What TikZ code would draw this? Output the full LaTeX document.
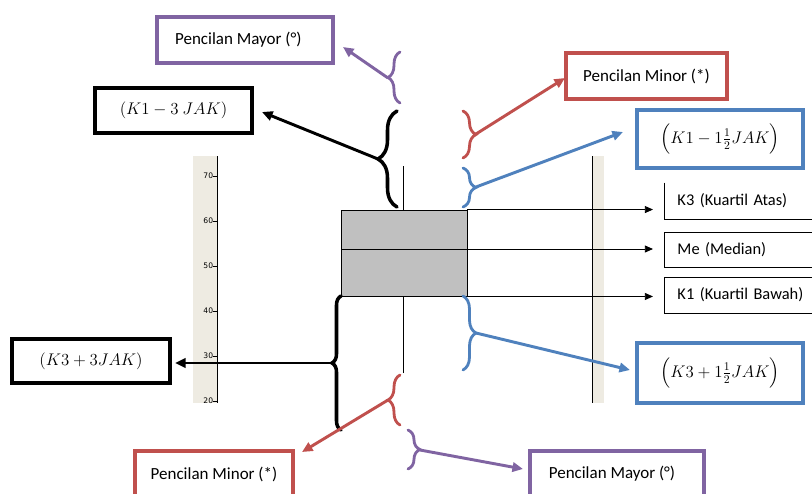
\documentclass[tikz,border=0pt]{standalone}
\usepackage{amsmath}
\usepackage{fontspec}
\setmainfont{Carlito}
\newfontfamily\axisfont{DejaVu Sans}
\usetikzlibrary{arrows.meta,decorations.pathreplacing}
\definecolor{ungu}{HTML}{8064A2}
\definecolor{merah}{HTML}{C0504D}
\definecolor{biru}{HTML}{4F81BD}
\definecolor{krem}{HTML}{EEEBE2}
\definecolor{abu}{HTML}{C0C0C0}

\begin{document}
\begin{tikzpicture}[x=0.03cm,y=-0.03cm,
        kotakteks/.style={draw, line width=3.2pt, inner sep=0pt,
                        font=\fontsize{14.5}{16}\selectfont},
        label/.style={anchor=west, text width=5cm, inner xsep=0.39cm,
                        inner ysep=0pt, line width=0.8pt,
                        font=\fontsize{14}{16}\selectfont},
        kurung/.style={decorate, decoration={brace, amplitude=#1},
                        line cap=round},
        panah/.style={-{Triangle[length=9pt,width=8pt]}, line width=2.5pt},
        garis/.style={-{Triangle[length=7pt,width=6pt]}, line width=0.8pt}]
    \useasboundingbox (0,0) rectangle (812,493);
    \clip (0,0) rectangle (812,493);

    \begin{scope}
        \clip (180,150) rectangle (230,403);
        \fill[krem] (193,156) rectangle (217,403);
        \draw[line width=0.8pt] (217,156) -- (217,403);
        \foreach \v in {20,30,...,70}
            \draw[line width=0.6pt] (213,{401-(\v-20)*4.5}) -- (217,{401-(\v-20)*4.5})
                node[left=3pt, inner sep=0pt, font=\axisfont\fontsize{6.5}{7}\selectfont] {\v};
    \end{scope}
    \fill[krem] (592,156) rectangle (604,403);
    \draw[line width=0.8pt] (592,156) -- (592,403);

    \node[draw, fill=abu, line width=0.8pt, inner sep=0pt,
          minimum width=3.78cm, minimum height=2.58cm] (kotak) at (404,253) {};
    \coordinate (median) at (341,249);
    \draw[line width=0.8pt] (median) -- (median -| kotak.east);
    \coordinate (atas) at (403,166);
    \coordinate (bawah) at (403,373);
    \draw[line width=0.8pt] (atas) -- (atas |- kotak.north)
                            (bawah) -- (bawah |- kotak.south);

    \node[label, minimum height=1.08cm] (k3) at (664,201) {K3 (Kuartil Atas)};
    \draw[line width=0.8pt] (k3.north west) -- (k3.south west) -- (k3.south east);
    \node[label, draw, minimum height=1.05cm] (me) at (664,249.5) {Me (Median)};
    \node[label, draw, minimum height=1.08cm] (k1) at (664,295) {K1 (Kuartil Bawah)};
    \draw[garis, shorten >=0.33cm] (kotak.north east) -- (kotak.north east -| k3.west);
    \draw[garis, shorten >=0.33cm] (median) -- (median -| me.west);
    \draw[garis, shorten >=0.33cm] (kotak.south east) -- (kotak.south east -| k1.west);

    \node[kotakteks, ungu, text=black, minimum width=5.28cm, minimum height=1.38cm]
        (mayorA) at (245,40) {Pencilan Mayor (°)\hspace*{0.4cm}};
    \node[kotakteks, merah, text=black, minimum width=4.83cm, minimum height=1.38cm]
        (minorA) at (646.5,76) {Pencilan Minor (*)};
    \node[kotakteks, biru, text=black, minimum width=4.98cm, minimum height=1.74cm]
        (biruA) at (720,139) {$\Big(K1-1\frac{1}{2}JAK\Big)$};
    \node[kotakteks, biru, text=black, minimum width=4.98cm, minimum height=1.8cm]
        (biruB) at (720,373) {$\Big(K3+1\frac{1}{2}JAK\Big)$};
    \node[kotakteks, line width=3.4pt, minimum width=4.71cm, minimum height=1.35cm]
        (hitamA) at (173.5,110.5) {$(K1-3\ JAK)$};
    \node[kotakteks, line width=3.4pt, minimum width=4.74cm, minimum height=1.32cm]
        (hitamB) at (91,361) {$(K3+3JAK)$};
    \node[kotakteks, merah, text=black, minimum width=4.74cm, minimum height=1.38cm]
        (minorB) at (214,474) {Pencilan Minor (*)};
    \node[kotakteks, ungu, text=black, minimum width=5.22cm, minimum height=1.38cm]
        (mayorB) at (617,474) {Pencilan Mayor (°)\hspace*{0.3cm}};

    \draw[kurung=0.36cm, ungu, line width=2.4pt] (400,103) -- (400,52);
    \draw[kurung=0.57cm, line width=3pt] (397,207) -- (397,111);
    \draw[kurung=0.39cm, merah, line width=2.4pt] (463,111) -- (463,158);
    \draw[kurung=0.39cm, biru, line width=2.4pt] (463,168) -- (463,207);
    \draw[kurung=0.27cm, line width=3pt] (341,430) -- (341,296);
    \draw[kurung=0.39cm, biru, line width=2.4pt] (463,296) -- (463,370);
    \draw[kurung=0.36cm, merah, line width=2.4pt] (400,425) -- (400,375);
    \draw[kurung=0.36cm, ungu, line width=2.4pt] (408,430) -- (408,469);

    \coordinate (ujungMayorA) at (388,78);
    \coordinate (ujungHitamA) at (378,159);
    \coordinate (ujungMinorA) at (476,134);
    \coordinate (ujungBiruA) at (476,187);
    \coordinate (ujungHitamB) at (332,363);
    \coordinate (ujungBiruB) at (476,333);
    \coordinate (ujungMinorB) at (388,400);
    \coordinate (ujungMayorB) at (420,450);

    \coordinate (keMayorA) at (343,47);
    \coordinate (keHitamA) at (262,112);
    \coordinate (keMinorA) at (565,78);
    \coordinate (keBiruA) at (623,132);
    \coordinate (keBiruB) at (630,370);
    \coordinate (keMinorB) at (302,452);
    \coordinate (keMayorB) at (523,469);

    \draw[panah, ungu] (ujungMayorA) -- (keMayorA);
    \draw[panah] (ujungHitamA) -- (keHitamA);
    \draw[panah, merah] (ujungMinorA) -- (keMinorA);
    \draw[panah, biru] (ujungBiruA) -- (keBiruA);
    \draw[panah, shorten >=0.09cm] (ujungHitamB) -- (ujungHitamB -| hitamB.east);
    \draw[panah, biru] (ujungBiruB) -- (keBiruB);
    \draw[panah, merah] (ujungMinorB) -- (keMinorB);
    \draw[panah, ungu] (ujungMayorB) -- (keMayorB);
\end{tikzpicture}
\end{document}
